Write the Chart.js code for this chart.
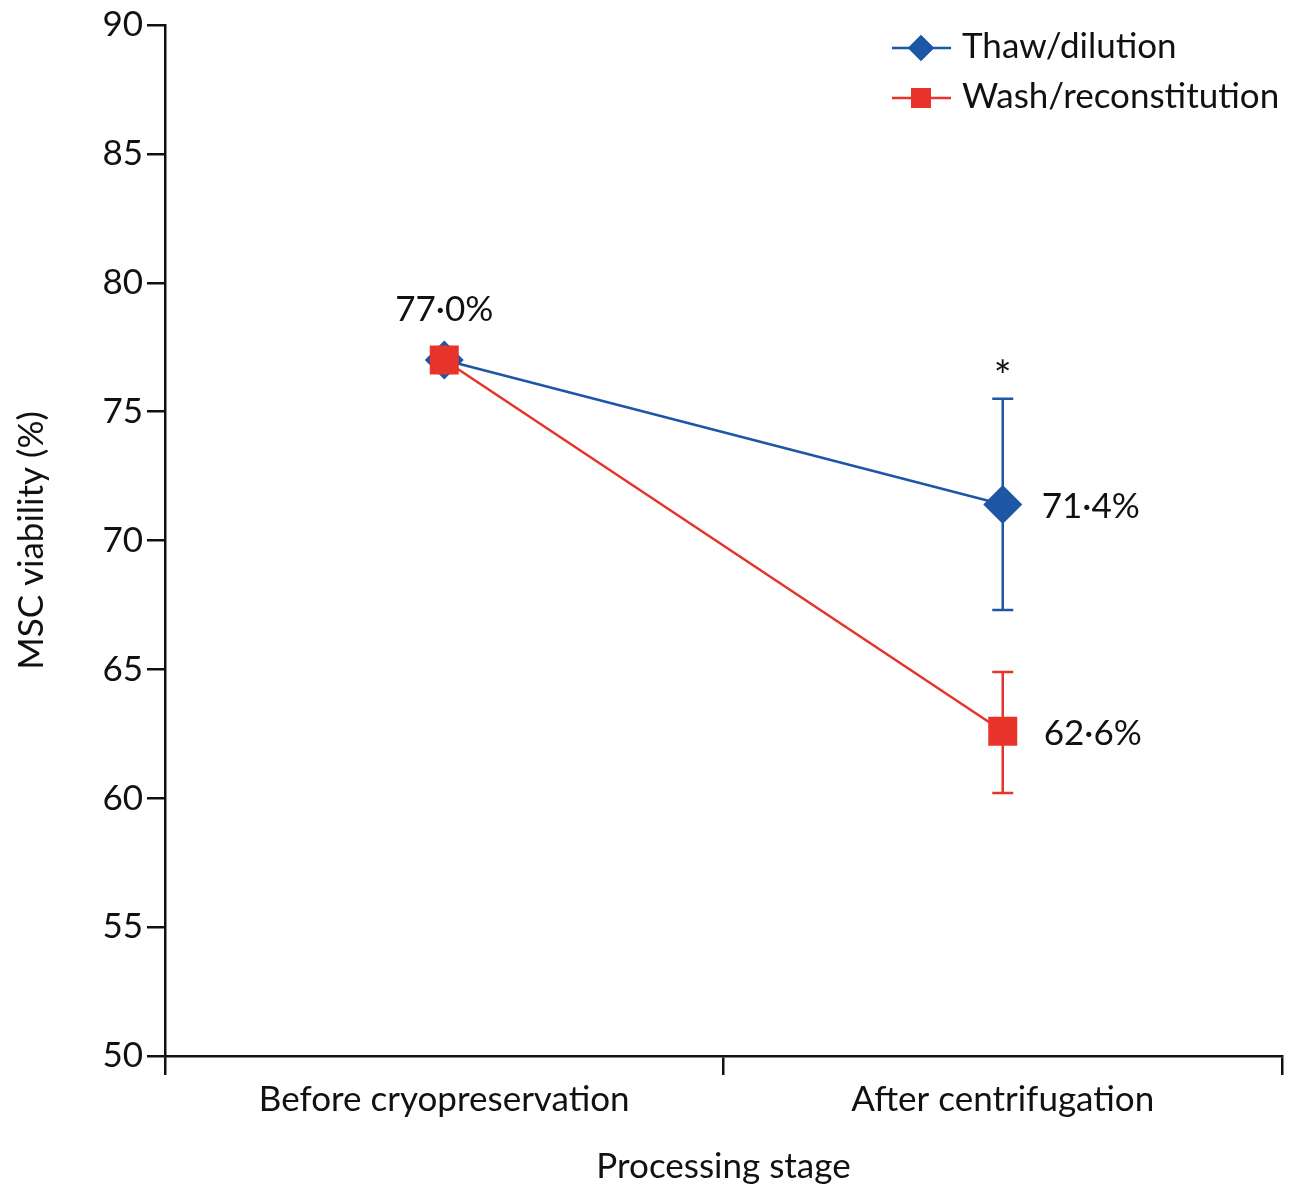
<!DOCTYPE html>
<html>
<head>
<meta charset="utf-8">
<script src="https://cdn.jsdelivr.net/npm/chart.js@4"></script>
<style>
  body { margin: 0; background: #fff; }
  #wrap { width: 1303px; height: 1191px; }
</style>
</head>
<body>
<div id="wrap"><canvas id="viability" width="1303" height="1191"></canvas></div>
<script>
const stages = ["Before cryopreservation", "After centrifugation"];
const seriesNames = ["Thaw/dilution", "Wash/reconstitution"];
const thawValues = [77.0, 71.4];
const washValues = [77.0, 62.6];
const thawErrors = [null, [67.3, 75.5]];
const washErrors = [null, [60.2, 64.9]];
const valueLabels = ["77·0%", "71·4%", "62·6%"];
const yTicks = [50, 55, 60, 65, 70, 75, 80, 85, 90];

const BLUE = "#1d56a5";
const RED = "#e8332b";
const FONT = "Lato";

// error bars, drawn under the markers
const errorBars = {
    id: "errorBars",
    beforeDatasetsDraw(chart) {
        const { ctx, scales: { y } } = chart;
        chart.data.datasets.forEach((ds, i) => {
            const meta = chart.getDatasetMeta(i);
            ds.errors.forEach((err, j) => {
                if (!err) return;
                const x = meta.data[j].x;
                const lo = y.getPixelForValue(err[0]);
                const hi = y.getPixelForValue(err[1]);
                ctx.save();
                ctx.strokeStyle = ds.borderColor;
                ctx.lineWidth = 2.5;
                ctx.beginPath();
                ctx.moveTo(x, lo); ctx.lineTo(x, hi);
                ctx.moveTo(x - 10.5, lo); ctx.lineTo(x + 10.5, lo);
                ctx.moveTo(x - 10.5, hi); ctx.lineTo(x + 10.5, hi);
                ctx.stroke();
                ctx.restore();
            });
        });
    }
};

// value labels, asterisk and the legend
const annotations = {
    id: "annotations",
    afterDraw(chart) {
        const { ctx, scales: { y } } = chart;
        const thaw = chart.getDatasetMeta(0).data;
        const wash = chart.getDatasetMeta(1).data;
        ctx.save();
        ctx.fillStyle = "#111";
        ctx.font = "35px " + FONT;
        ctx.textBaseline = "middle";

        ctx.textAlign = "center";
        ctx.fillText(valueLabels[0], thaw[0].x, thaw[0].y - 50);

        ctx.textAlign = "left";
        ctx.fillText(valueLabels[1], thaw[1].x + 39, thaw[1].y + 2);
        ctx.fillText(valueLabels[2], wash[1].x + 41, wash[1].y + 2);

        // significance mark above the thaw error bar
        ctx.textAlign = "center";
        ctx.font = "42px " + FONT;
        const top = y.getPixelForValue(thawErrors[1][1]);
        ctx.fillText("*", thaw[1].x, top - 21);

        // legend
        const items = [
            { name: seriesNames[0], color: BLUE, style: "rectRot", r: 13, y: 48 },
            { name: seriesNames[1], color: RED, style: "rect", r: 14, y: 98 }
        ];
        items.forEach(it => {
            ctx.strokeStyle = it.color;
            ctx.lineWidth = 2.5;
            ctx.beginPath();
            ctx.moveTo(892, it.y); ctx.lineTo(951, it.y);
            ctx.stroke();
            ctx.fillStyle = it.color;
            Chart.helpers.drawPoint(ctx, { pointStyle: it.style, radius: it.r, borderWidth: 0 }, 921, it.y);
            ctx.fill();
            ctx.fillStyle = "#111";
            ctx.font = "35px " + FONT;
            ctx.textAlign = "left";
            ctx.fillText(it.name, 962, it.y - 1);
        });
        ctx.restore();
    }
};

const ctx = document.getElementById("viability").getContext("2d");

new Chart(ctx, {
    type: "line",
    data: {
        labels: stages,
        datasets: [
            {
                label: seriesNames[0],
                data: thawValues,
                errors: thawErrors,
                borderColor: BLUE,
                backgroundColor: BLUE,
                borderWidth: 2.5,
                pointStyle: "rectRot",
                pointRadius: 19.5,
                pointBorderWidth: 0,
                order: 1
            },
            {
                label: seriesNames[1],
                data: washValues,
                errors: washErrors,
                borderColor: RED,
                backgroundColor: RED,
                borderWidth: 2.5,
                pointStyle: "rect",
                pointRadius: 20.5,
                pointBorderWidth: 0,
                order: 0
            }
        ]
    },
    options: {
        responsive: false,
        animation: false,
        layout: { padding: { top: 25, right: 21, left: 0, bottom: 0 } },
        plugins: {
            legend: { display: false },
            tooltip: { enabled: false }
        },
        scales: {
            x: {
                offset: true,
                grid: {
                    offset: true,
                    drawOnChartArea: false,
                    tickLength: 19,
                    color: "#111",
                    lineWidth: 2.5
                },
                border: { color: "#111", width: 2.5 },
                ticks: {
                    color: "#111",
                    font: { family: FONT, size: 35 },
                    padding: 4,
                    maxRotation: 0
                },
                title: {
                    display: true,
                    text: "Processing stage",
                    color: "#111",
                    font: { family: FONT, size: 35 },
                    padding: { top: 0, bottom: 3 }
                },
                afterFit(scale) { scale.height = 135; }
            },
            y: {
                min: 50,
                max: 90,
                afterBuildTicks(scale) { scale.ticks = yTicks.map(v => ({ value: v })); },
                grid: {
                    drawOnChartArea: false,
                    tickLength: 18,
                    color: "#111",
                    lineWidth: 2.5
                },
                border: { color: "#111", width: 2.5 },
                ticks: {
                    color: "#111",
                    font: { family: FONT, size: 35 },
                    padding: 4
                },
                title: {
                    display: true,
                    text: "MSC viability (%)",
                    color: "#111",
                    font: { family: FONT, size: 35 },
                    padding: { top: 11, bottom: 0 }
                },
                afterFit(scale) { scale.width = 165; }
            }
        }
    },
    plugins: [errorBars, annotations]
});
</script>
</body>
</html>
